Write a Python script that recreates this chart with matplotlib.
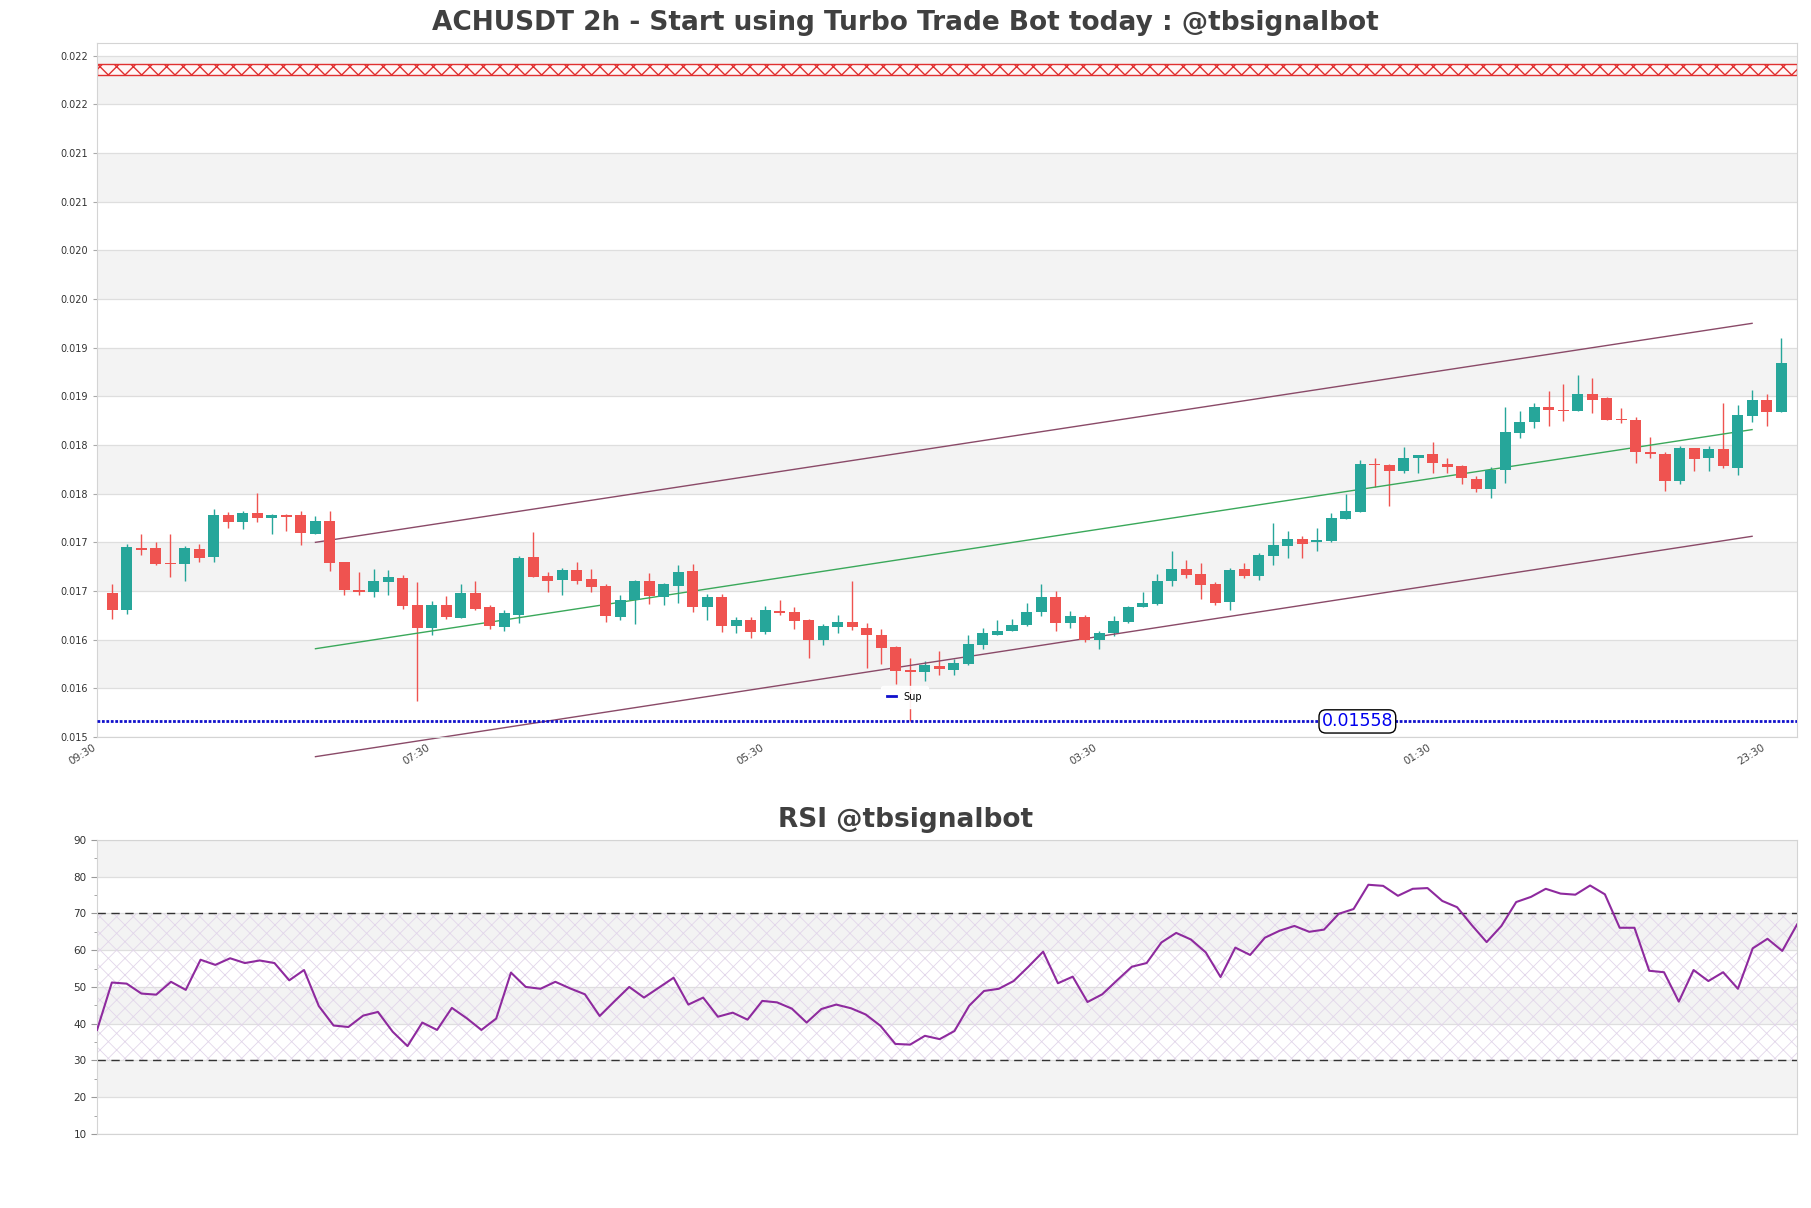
import matplotlib
matplotlib.use("Agg")
import matplotlib.pyplot as plt
import numpy as np

# --- data ---
TITLE = "ACHUSDT 2h - Start using Turbo Trade Bot today : @tbsignalbot"
RSI_TITLE = "RSI @tbsignalbot"

time_labels = ["09:30", "07:30", "05:30", "03:30", "01:30", "23:30"]
time_tick_pos = [-1, 22, 45, 68, 91, 114]

price_ticks = [0.0150, 0.0155, 0.0160, 0.0165, 0.0170, 0.0175, 0.0180, 0.0185,
               0.0190, 0.0195, 0.0200, 0.0205, 0.0210, 0.0215, 0.0220]
price_tick_labels = ["0.015", "0.016", "0.016", "0.017", "0.017", "0.018", "0.018", "0.019",
                     "0.019", "0.020", "0.020", "0.021", "0.021", "0.022", "0.022"]

opens = [0.016478, 0.016306, 0.016942, 0.016942, 0.016787, 0.016777, 0.016931, 0.016849,
         0.017282, 0.017213, 0.017302, 0.017254, 0.017282, 0.017282, 0.017089, 0.017220,
         0.016797, 0.016509, 0.016491, 0.016595, 0.016632, 0.016354, 0.016120, 0.016354,
         0.016223, 0.016478, 0.016333, 0.016131, 0.016254, 0.016849, 0.016653, 0.016612,
         0.016715, 0.016622, 0.016550, 0.016234, 0.016405, 0.016601, 0.016440, 0.016550,
         0.016704, 0.016337, 0.016440, 0.016141, 0.016199, 0.016076, 0.016292, 0.016282,
         0.016199, 0.015997, 0.016131, 0.016179, 0.016124, 0.016045, 0.015921, 0.015684,
         0.015667, 0.015732, 0.015687, 0.015749, 0.015945, 0.016045, 0.016086, 0.016151,
         0.016282, 0.016436, 0.016172, 0.016230, 0.015997, 0.016065, 0.016179, 0.016337,
         0.016364, 0.016601, 0.016725, 0.016674, 0.016570, 0.016388, 0.016725, 0.016653,
         0.016863, 0.016966, 0.017034, 0.017000, 0.017014, 0.017241, 0.017316, 0.017808,
         0.017797, 0.017729, 0.017863, 0.017911, 0.017808, 0.017780, 0.017653, 0.017543,
         0.017739, 0.018124, 0.018234, 0.018395, 0.018364, 0.018351, 0.018529, 0.018478,
         0.018265, 0.018261, 0.017931, 0.017911, 0.017625, 0.017973, 0.017863, 0.017962,
         0.017759, 0.018296, 0.018467, 0.018337]
highs = [0.016570, 0.016983, 0.017086, 0.017000, 0.017086, 0.016962, 0.016983, 0.017344,
         0.017309, 0.017320, 0.017509, 0.017292, 0.017292, 0.017323, 0.017271, 0.017323,
         0.016797, 0.016694, 0.016725, 0.016715, 0.016663, 0.016591, 0.016402, 0.016447,
         0.016570, 0.016601, 0.016361, 0.016302, 0.016859, 0.017110, 0.016694, 0.016735,
         0.016797, 0.016729, 0.016570, 0.016457, 0.016612, 0.016684, 0.016581, 0.016770,
         0.016777, 0.016467, 0.016474, 0.016234, 0.016234, 0.016351, 0.016405, 0.016333,
         0.016210, 0.016162, 0.016254, 0.016598, 0.016168, 0.016107, 0.015935, 0.015811,
         0.015777, 0.015880, 0.015797, 0.016045, 0.016117, 0.016199, 0.016210, 0.016375,
         0.016570, 0.016495, 0.016292, 0.016254, 0.016086, 0.016244, 0.016344, 0.016488,
         0.016674, 0.016911, 0.016818, 0.016787, 0.016591, 0.016735, 0.016787, 0.016890,
         0.017199, 0.017117, 0.017065, 0.017148, 0.017302, 0.017498, 0.017849, 0.017869,
         0.017808, 0.017976, 0.017900, 0.018034, 0.017869, 0.017790, 0.017684, 0.017770,
         0.018395, 0.018354, 0.018436, 0.018550, 0.018622, 0.018715, 0.018684, 0.018488,
         0.018385, 0.018292, 0.018079, 0.017931, 0.017993, 0.017973, 0.017993, 0.018436,
         0.018416, 0.018560, 0.018519, 0.019096]
lows = [0.016213, 0.016261, 0.016873, 0.016766, 0.016646, 0.016605, 0.016801, 0.016797,
        0.017148, 0.017137, 0.017213, 0.017086, 0.017117, 0.016973, 0.017089, 0.016708,
        0.016460, 0.016460, 0.016440, 0.016457, 0.016316, 0.015368, 0.016048, 0.016213,
        0.016223, 0.016306, 0.016110, 0.016089, 0.016172, 0.016643, 0.016491, 0.016460,
        0.016570, 0.016488, 0.016182, 0.016203, 0.016162, 0.016364, 0.016354, 0.016375,
        0.016285, 0.016203, 0.016079, 0.016069, 0.016017, 0.016058, 0.016254, 0.016110,
        0.015811, 0.015945, 0.016069, 0.016100, 0.015708, 0.015746, 0.015540, 0.015161,
        0.015574, 0.015636, 0.015636, 0.015739, 0.015900, 0.016045, 0.016086, 0.016141,
        0.016244, 0.016089, 0.016120, 0.015976, 0.015904, 0.016038, 0.016168, 0.016333,
        0.016354, 0.016550, 0.016636, 0.016419, 0.016357, 0.016306, 0.016636, 0.016612,
        0.016770, 0.016842, 0.016842, 0.016911, 0.017000, 0.017241, 0.017316, 0.017567,
        0.017378, 0.017708, 0.017708, 0.017708, 0.017708, 0.017595, 0.017512, 0.017460,
        0.017605, 0.018072, 0.018175, 0.018192, 0.018244, 0.018347, 0.018326, 0.018254,
        0.018223, 0.017811, 0.017863, 0.017529, 0.017595, 0.017729, 0.017729, 0.017759,
        0.017687, 0.018234, 0.018192, 0.018337]
closes = [0.016306, 0.016952, 0.016924, 0.016777, 0.016777, 0.016942, 0.016838, 0.017282,
          0.017213, 0.017302, 0.017254, 0.017282, 0.017265, 0.017100, 0.017220, 0.016790,
          0.016512, 0.016485, 0.016601, 0.016643, 0.016347, 0.016120, 0.016354, 0.016234,
          0.016478, 0.016316, 0.016141, 0.016271, 0.016838, 0.016643, 0.016601, 0.016715,
          0.016601, 0.016540, 0.016244, 0.016405, 0.016601, 0.016447, 0.016570, 0.016694,
          0.016337, 0.016436, 0.016141, 0.016199, 0.016079, 0.016302, 0.016271, 0.016192,
          0.015997, 0.016141, 0.016179, 0.016131, 0.016048, 0.015914, 0.015677, 0.015663,
          0.015735, 0.015698, 0.015759, 0.015955, 0.016065, 0.016086, 0.016148, 0.016282,
          0.016436, 0.016172, 0.016244, 0.015997, 0.016065, 0.016189, 0.016333, 0.016375,
          0.016601, 0.016725, 0.016667, 0.016564, 0.016378, 0.016715, 0.016656, 0.016869,
          0.016973, 0.017034, 0.016986, 0.017027, 0.017251, 0.017323, 0.017808, 0.017790,
          0.017729, 0.017869, 0.017900, 0.017811, 0.017770, 0.017656, 0.017553, 0.017739,
          0.018137, 0.018241, 0.018395, 0.018361, 0.018351, 0.018519, 0.018460, 0.018254,
          0.018254, 0.017924, 0.017904, 0.017625, 0.017973, 0.017852, 0.017962, 0.017780,
          0.018313, 0.018467, 0.018337, 0.018838]

# regression channel (start/end index and prices)
channel_x = [14, 113]
channel_upper = [0.017000, 0.019250]
channel_mid = [0.015907, 0.018158]
channel_lower = [0.014798, 0.017062]

resistance_zone = (0.02180, 0.02191)
support_level = 0.01516
support_label = "0.01558"
support_label_x = 85.8

rsi = [38.3, 51.2, 50.9, 48.2, 47.9, 51.4, 49.2, 57.4, 56.0, 57.8, 56.5, 57.2, 56.5, 51.8,
       54.6, 44.8, 39.5, 39.1, 42.2, 43.2, 37.8, 33.9, 40.3, 38.3, 44.3, 41.5, 38.3, 41.4,
       53.9, 50.0, 49.5, 51.4, 49.6, 48.0, 42.1, 46.1, 50.0, 47.1, 49.8, 52.5, 45.2, 47.1,
       41.9, 43.0, 41.1, 46.2, 45.8, 44.1, 40.3, 44.0, 45.2, 44.2, 42.5, 39.4, 34.5, 34.3,
       36.7, 35.8, 38.0, 44.9, 48.9, 49.5, 51.6, 55.5, 59.6, 51.0, 52.8, 45.9, 48.0, 51.8,
       55.5, 56.5, 62.1, 64.7, 62.9, 59.4, 52.7, 60.7, 58.7, 63.4, 65.3, 66.6, 65.0, 65.6,
       69.9, 71.2, 77.8, 77.5, 74.8, 76.7, 76.9, 73.4, 71.7, 66.8, 62.2, 66.6, 73.1, 74.5,
       76.7, 75.4, 75.1, 77.6, 75.2, 66.1, 66.1, 54.4, 54.0, 46.0, 54.6, 51.6, 54.0, 49.5,
       60.5, 63.1, 59.8, 67.0]
rsi_ticks = [10, 20, 30, 40, 50, 60, 70, 80, 90]

# --- styling ---
UP = "#26a69a"
DOWN = "#ef5350"
BAND = "#f3f3f3"
GRID = "#dedede"
SPINE = "#d4d4d4"
TXT = "#333333"


def hatch_lw(patch, lw):
    # per-patch hatch width where the matplotlib version allows it
    try:
        patch.set_hatch_linewidth(lw)
    except AttributeError:
        pass


fig = plt.figure(figsize=(18.11, 12.08), dpi=100)
ax = fig.add_axes([0.0536, 0.3899, 0.9387, 0.5745])
ax_rsi = fig.add_axes([0.0536, 0.0613, 0.9387, 0.2434])

# --- price panel ---
n = len(opens)
x = np.arange(n)
o = np.array(opens)
c = np.array(closes)
colors = np.where(c >= o, UP, DOWN)

for lo, hi in zip(price_ticks[1::2], price_ticks[2::2]):
    ax.axhspan(lo, hi, color=BAND, zorder=0, lw=0)
for t in price_ticks:
    ax.axhline(t, color=GRID, lw=0.9, zorder=0.5)

zone = ax.axhspan(resistance_zone[0], resistance_zone[1], facecolor="#fff6f6", edgecolor="#e03030",
                  hatch="xx", lw=1.0, zorder=1)
hatch_lw(zone, 1.0)

ax.vlines(x, lows, highs, colors=colors, lw=1.0, zorder=2)
body = np.maximum(np.abs(c - o), 0.000012)
ax.bar(x, body, bottom=np.minimum(o, c), width=0.76, color=colors, zorder=3, lw=0)

ax.plot(channel_x, channel_upper, color="#8a4a68", lw=1.0, zorder=2.5, clip_on=False)
ax.plot(channel_x, channel_lower, color="#8a4a68", lw=1.0, zorder=2.5, clip_on=False)
ax.plot(channel_x, channel_mid, color="#3aa85a", lw=1.0, zorder=2.5)

ax.axhline(support_level, color="#1010cc", lw=2.0, ls=(0, (1, 0.6)), zorder=4, label="Sup")
ax.text(support_label_x, support_level, support_label, color="#0000ee", fontsize=12.5,
        ha="center", va="center", zorder=6,
        bbox=dict(boxstyle="round,pad=0.15,rounding_size=0.4", fc="white", ec="black", lw=1))

leg = ax.legend(loc="center", bbox_to_anchor=(0.475, 0.058), fontsize=7, frameon=True,
                handlelength=0.9, handletextpad=0.8, borderpad=0.6)
leg.get_frame().set_facecolor("white")
leg.get_frame().set_edgecolor("white")
leg.get_frame().set_alpha(0.9)
for line in leg.get_lines():
    line.set_linestyle("-")
    line.set_linewidth(2)

ax.set_xlim(-1.05, 116.1)
ax.set_ylim(0.015, 0.02213)
ax.set_yticks(price_ticks)
ax.set_yticklabels(price_tick_labels)
ax.set_xticks(time_tick_pos)
ax.set_xticklabels(time_labels, rotation=32, ha="right")
ax.tick_params(axis="y", labelsize=7, colors=TXT, length=3, color="#aaaaaa")
ax.tick_params(axis="x", labelsize=7.5, colors="#444444", length=0, pad=4)
for s in ax.spines.values():
    s.set_color(SPINE)

# --- RSI panel ---
for lo in [20, 40, 60, 80]:
    ax_rsi.axhspan(lo, lo + 10, color=BAND, zorder=0, lw=0)
for t in rsi_ticks:
    ax_rsi.axhline(t, color=GRID, lw=0.9, zorder=0.5)
rsi_zone = ax_rsi.axhspan(30, 70, facecolor="none", edgecolor="#e2d6ea", hatch="xx", lw=0, zorder=1)
hatch_lw(rsi_zone, 0.6)
ax_rsi.axhline(70, color="#333333", lw=1.0, ls=(0, (6, 4)), zorder=2)
ax_rsi.axhline(30, color="#333333", lw=1.0, ls=(0, (6, 4)), zorder=2)
ax_rsi.plot(np.arange(len(rsi)), rsi, color="#8e2a9e", lw=1.5, zorder=3)

ax_rsi.set_xlim(0, len(rsi) - 1)
ax_rsi.set_ylim(10, 90)
ax_rsi.set_yticks(rsi_ticks)
ax_rsi.set_yticks([15, 25, 35, 45, 55, 65, 75, 85], minor=True)
ax_rsi.set_xticks([])
ax_rsi.tick_params(axis="y", which="major", labelsize=7.5, colors=TXT, length=4, color="#999999")
ax_rsi.tick_params(axis="y", which="minor", length=2.5, color="#999999")
for s in ax_rsi.spines.values():
    s.set_color(SPINE)

fig.text(0.5, 0.981, TITLE, ha="center", va="center", fontsize=19, fontweight="bold", color="#404040")
fig.text(0.5, 0.321, RSI_TITLE, ha="center", va="center", fontsize=19, fontweight="bold", color="#404040")

fig.savefig("out.png", dpi=100, facecolor="white")
